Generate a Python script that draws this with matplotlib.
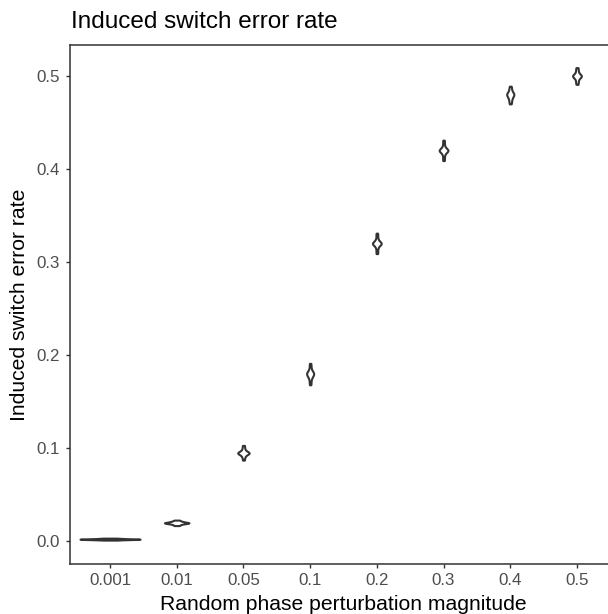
import numpy as np
import matplotlib
matplotlib.use("Agg")
import matplotlib.pyplot as plt
from matplotlib import cbook
from matplotlib.mlab import GaussianKDE

plt.rcParams["font.family"] = ["Liberation Sans", "DejaVu Sans"]

# Perturbation magnitudes (x categories)
magnitudes = ["0.001", "0.01", "0.05", "0.1", "0.2", "0.3", "0.4", "0.5"]

# Induced switch error rate per replicate, one list per magnitude
rate_0001 = [0.0010, 0.0013, 0.0015, 0.0016, 0.0017, 0.0018, 0.0019, 0.0020,
             0.0020, 0.0021, 0.0022, 0.0023, 0.0024, 0.0026, 0.0028, 0.0031]
rate_001 = [0.0166, 0.0174, 0.0181, 0.0186, 0.0189, 0.0191, 0.0193, 0.0195,
            0.0196, 0.0198, 0.0200, 0.0203, 0.0207, 0.0211, 0.0217, 0.0225]
rate_005 = [0.0870, 0.0895, 0.0912, 0.0925, 0.0932, 0.0938, 0.0943, 0.0946,
            0.0948, 0.0951, 0.0956, 0.0962, 0.0971, 0.0985, 0.1005, 0.1028]
rate_01 = [0.168, 0.171, 0.174, 0.176, 0.177, 0.178, 0.179, 0.1795,
           0.180, 0.1805, 0.181, 0.182, 0.183, 0.185, 0.188, 0.191]
rate_02 = [0.309, 0.312, 0.315, 0.317, 0.318, 0.319, 0.3195, 0.320,
           0.320, 0.3205, 0.321, 0.322, 0.323, 0.325, 0.328, 0.331]
rate_03 = [0.409, 0.412, 0.415, 0.417, 0.418, 0.419, 0.4195, 0.420,
           0.420, 0.4205, 0.421, 0.422, 0.423, 0.425, 0.428, 0.431]
rate_04 = [0.470, 0.472, 0.474, 0.476, 0.477, 0.478, 0.4795, 0.480,
           0.480, 0.4805, 0.481, 0.482, 0.483, 0.485, 0.487, 0.489]
rate_05 = [0.491, 0.493, 0.495, 0.497, 0.498, 0.499, 0.4995, 0.500,
           0.500, 0.5005, 0.501, 0.502, 0.503, 0.505, 0.507, 0.509]

groups = [rate_0001, rate_001, rate_005, rate_01, rate_02, rate_03, rate_04, rate_05]

y_ticks = [0.0, 0.1, 0.2, 0.3, 0.4, 0.5]
y_tick_labels = ["0.0", "0.1", "0.2", "0.3", "0.4", "0.5"]


def nrd0(kde):
    """Silverman's rule of thumb (R's bw.nrd0) as a factor on the data sd."""
    d = np.asarray(kde.dataset).ravel()
    sd = d.std(ddof=1)
    q75, q25 = np.percentile(d, [75, 25])
    h = 0.9 * min(sd, (q75 - q25) / 1.34) * len(d) ** -0.2
    return h / sd


def kde_method(X, coords):
    return GaussianKDE(np.asarray(X), bw_method=nrd0).evaluate(coords)


W, H, DPI = 608, 614, 100
fig = plt.figure(figsize=(W / DPI, H / DPI), dpi=DPI)
fig.patch.set_facecolor("white")

# panel spans 70..617 px horizontally, 45..564 px vertically
ax = fig.add_axes([70 / W, (H - 564) / H, 547 / W, 519 / H])

positions = np.arange(1, len(magnitudes) + 1)
stats = cbook.violin_stats(groups, kde_method, points=300)

# area scaling: widest violin gets 0.9, others proportional to peak density
peaks = np.array([s["vals"].max() for s in stats])
widths = 0.9 * peaks / peaks.max()

parts = ax.violin(stats, positions=positions, widths=widths,
                  showmeans=False, showextrema=False, showmedians=False)
for body in parts["bodies"]:
    body.set_facecolor("white")
    body.set_edgecolor("#333333")
    body.set_linewidth(1.5)
    body.set_alpha(1)

ax.set_xlim(0.4, 8.6)
ax.set_ylim(-0.0247, 0.5333)
ax.set_xticks(positions)
ax.set_xticklabels(magnitudes)
ax.set_yticks(y_ticks)
ax.set_yticklabels(y_tick_labels)

for side in ["left", "bottom", "top"]:
    ax.spines[side].set_color("#333333")
    ax.spines[side].set_linewidth(1.1)
ax.spines["right"].set_visible(False)

ax.tick_params(axis="both", length=3.2, width=1.0, color="#333333",
               labelcolor="#4D4D4D", labelsize=12.2)
ax.tick_params(axis="x", pad=3.0)
ax.tick_params(axis="y", pad=4.0)

fig.text(71 / W, 1 - 28 / H, "Induced switch error rate", fontsize=17.5,
         color="black", ha="left", va="baseline")
fig.text(343.5 / W, 1 - 610 / H, "Random phase perturbation magnitude",
         fontsize=15.2, color="black", ha="center", va="baseline")
fig.text(20 / W, 1 - 304.5 / H, "Induced switch error rate", fontsize=15.2,
         color="black", ha="center", va="center", rotation=90)

fig.savefig("out.png", dpi=DPI)
